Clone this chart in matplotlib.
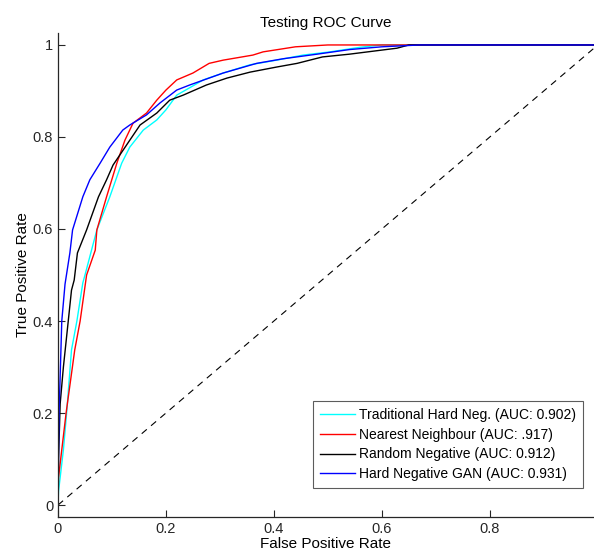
import numpy as np
import matplotlib.pyplot as plt

plt.rcParams['font.family'] = ['Liberation Sans', 'DejaVu Sans']

# ROC points (fpr, tpr)
trad_fpr = [0, 0.001, 0.004, 0.010, 0.016, 0.025, 0.035, 0.046, 0.050, 0.072, 0.096, 0.118, 0.133,
            0.158, 0.183, 0.200, 0.220, 0.244, 0.269, 0.306, 0.356, 0.405, 0.454, 0.504, 0.560, 0.600, 0.993]
trad_tpr = [0, 0.03, 0.06, 0.12, 0.20, 0.337, 0.40, 0.483, 0.50, 0.598, 0.67, 0.743, 0.778,
            0.815, 0.837, 0.859, 0.891, 0.907, 0.924, 0.939, 0.957, 0.967, 0.978, 0.985, 0.995, 1.0, 1.0]

nn_fpr = [0, 0.001, 0.005, 0.015, 0.031, 0.041, 0.053, 0.069, 0.072, 0.090, 0.109, 0.124, 0.139,
          0.164, 0.183, 0.200, 0.220, 0.250, 0.280, 0.306, 0.361, 0.380, 0.440, 0.500, 0.993]
nn_tpr = [0, 0.06, 0.10, 0.20, 0.337, 0.40, 0.50, 0.554, 0.598, 0.67, 0.743, 0.793, 0.83,
          0.852, 0.88, 0.902, 0.924, 0.939, 0.96, 0.967, 0.978, 0.985, 0.996, 1.0, 1.0]

rand_fpr = [0, 0.001, 0.004, 0.010, 0.019, 0.025, 0.030, 0.036, 0.053, 0.075, 0.090, 0.102, 0.133,
            0.152, 0.183, 0.207, 0.232, 0.275, 0.313, 0.356, 0.405, 0.443, 0.490, 0.540, 0.628, 0.650, 0.993]
rand_tpr = [0, 0.10, 0.22, 0.30, 0.40, 0.467, 0.489, 0.548, 0.598, 0.67, 0.707, 0.739, 0.793,
            0.826, 0.852, 0.88, 0.891, 0.913, 0.928, 0.941, 0.952, 0.96, 0.974, 0.98, 0.993, 1.0, 1.0]

gan_fpr = [0, 0.001, 0.002, 0.007, 0.013, 0.022, 0.027, 0.046, 0.059, 0.078, 0.096, 0.120, 0.133,
           0.164, 0.189, 0.220, 0.244, 0.306, 0.368, 0.417, 0.480, 0.540, 0.600, 0.670, 0.993]
gan_tpr = [0, 0.12, 0.20, 0.40, 0.48, 0.548, 0.598, 0.67, 0.707, 0.743, 0.778, 0.815, 0.826,
           0.848, 0.874, 0.902, 0.913, 0.939, 0.96, 0.97, 0.98, 0.99, 0.996, 1.0, 1.0]

labels = ['Traditional Hard Neg. (AUC: 0.902)', 'Nearest Neighbour (AUC: .917)',
          'Random Negative (AUC: 0.912)', 'Hard Negative GAN (AUC: 0.931)']

fig = plt.figure(figsize=(5.94, 5.54), dpi=100)
ax = fig.add_axes([58 / 594, 37 / 554, 1 - 58 / 594, 484 / 554])

ax.plot(trad_fpr, trad_tpr, color=(0, 1, 1), lw=1.0, label=labels[0])
ax.plot(nn_fpr, nn_tpr, color='red', lw=1.0, label=labels[1])
ax.plot(rand_fpr, rand_tpr, color='black', lw=1.0, label=labels[2])
ax.plot(gan_fpr, gan_tpr, color='blue', lw=1.0, label=labels[3])
ax.plot([0, 1], [0, 1], color='black', lw=0.8, linestyle=(0, (6, 5)))

ax.set_xlim(0, 0.993)
ax.set_ylim(-0.026, 1.026)
ax.set_xticks([0, 0.2, 0.4, 0.6, 0.8])
ax.set_xticklabels(['0', '0.2', '0.4', '0.6', '0.8'])
ax.set_yticks([0, 0.2, 0.4, 0.6, 0.8, 1])
ax.set_yticklabels(['0', '0.2', '0.4', '0.6', '0.8', '1'])
ax.tick_params(direction='in', length=5, width=0.8, labelsize=10.5, colors='#262626')
for s in ['top', 'right']:
    ax.spines[s].set_visible(False)
for s in ['left', 'bottom']:
    ax.spines[s].set_linewidth(0.9)
    ax.spines[s].set_color('#262626')

ax.set_title('Testing ROC Curve', fontsize=11, pad=4)
ax.set_xlabel('False Positive Rate', fontsize=11, labelpad=1)
ax.set_ylabel('True Positive Rate', fontsize=11, labelpad=2)

leg = ax.legend(loc='lower right', bbox_to_anchor=(1 - 11 / 536, 0.06), fontsize=10,
                frameon=True, fancybox=False, edgecolor='#333333', handlelength=2.5,
                handletextpad=0.3, borderpad=0.5, labelspacing=0.4, borderaxespad=0)
leg.get_frame().set_linewidth(0.8)

fig.savefig('out.png', dpi=100)
